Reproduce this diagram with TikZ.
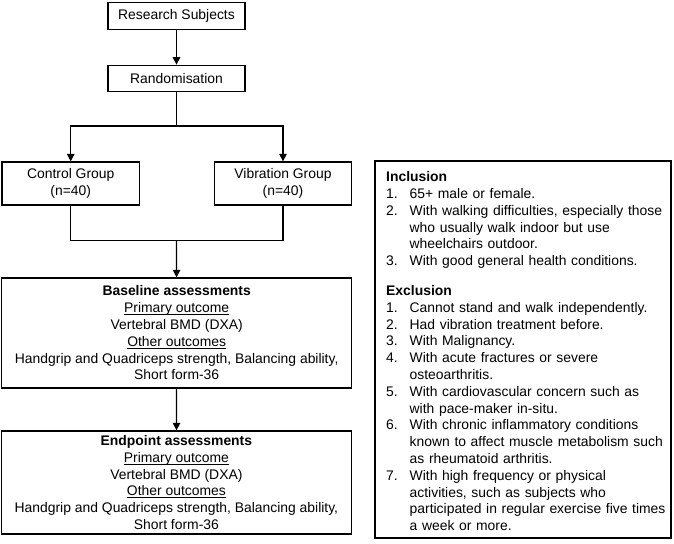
\documentclass[tikz,border=0pt]{standalone}
\usepackage{fontspec}
\setmainfont{Liberation Sans}
\usetikzlibrary{arrows.meta}
\newcommand{\critem}[2]{\par\hangindent=23.5pt\hangafter=1\noindent\makebox[23.5pt][l]{#1}#2}
\newcommand{\uln}[1]{\setbox0\hbox{#1}\rlap{\rule[-2.2pt]{\wd0}{0.9pt}}\box0}
\begin{document}
\begin{tikzpicture}[x=1pt,y=-1pt,
    box/.style={draw,line width=1.3pt,inner sep=0pt,align=center,font=\fontsize{13.9}{16.8}\selectfont},
    link/.style={line width=1.3pt},
    arr/.style={line width=1.3pt,-{Triangle[length=7.5pt,width=7.5pt]}}]
    \useasboundingbox (0,0) rectangle (674,543);
    \node[box,minimum width=137pt,minimum height=26.5pt] (subjects) at (176.5,16) {Research Subjects};
    \node[box,minimum width=137pt,minimum height=26.5pt] (random) at (176.5,78.5) {Randomisation};
    \node[box,minimum width=137.5pt,minimum height=43pt] (control) at (70.7,183.5) {Control Group\\(n=40)};
    \node[box,minimum width=137.5pt,minimum height=43pt] (vibration) at (283,183.5) {Vibration Group\\(n=40)};
    \node[box,minimum width=350pt,minimum height=110pt] (baseline) at (176.7,333)
        {\textbf{Baseline assessments}\\\uln{Primary outcome}\\Vertebral BMD (DXA)\\\uln{Other outcomes}\\Handgrip and Quadriceps strength, Balancing ability,\\Short form-36};
    \node[box,minimum width=349.5pt,minimum height=103pt] (endpoint) at (176.4,482.5)
        {\textbf{Endpoint assessments}\\\uln{Primary outcome}\\Vertebral BMD (DXA)\\\uln{Other outcomes}\\Handgrip and Quadriceps strength, Balancing ability,\\Short form-36};
    \node[draw,line width=1.3pt,minimum width=296pt,minimum height=377pt,inner sep=0pt] (crit) at (523,349.5) {};
    \node[anchor=north west,inner sep=0pt,text width=285pt,font=\fontsize{13.9}{16.8}\selectfont] (crittext) at (386,171.5)
        {\noindent\textbf{Inclusion}
        \critem{1.}{65+ male or female.}
        \critem{2.}{With walking difficulties, especially those\newline who usually walk indoor but use\newline wheelchairs outdoor.}
        \critem{3.}{With good general health conditions.}
        \par\vspace{13pt}
        \noindent\textbf{Exclusion}
        \critem{1.}{Cannot stand and walk independently.}
        \critem{2.}{Had vibration treatment before.}
        \critem{3.}{With Malignancy.}
        \critem{4.}{With acute fractures or severe\newline osteoarthritis.}
        \critem{5.}{With cardiovascular concern such as\newline with pace-maker in-situ.}
        \critem{6.}{With chronic inflammatory conditions\newline known to affect muscle metabolism such\newline as rheumatoid arthritis.}
        \critem{7.}{With high frequency or physical\newline activities, such as subjects who\newline participated in regular exercise five times\newline a week or more.}\par};
    \coordinate (split) at (176.5,126);
    \coordinate (join) at (176.5,240.7);
    \draw[arr] (subjects) -- (random);
    \draw[link] (random) -- (split);
    \draw[arr] (split) -| (control);
    \draw[arr] (split) -| (vibration);
    \draw[link] (control) |- (join);
    \draw[link] (vibration) |- (join);
    \draw[arr] (join) -- (baseline);
    \draw[arr] (baseline) -- (endpoint);
\end{tikzpicture}
\end{document}
